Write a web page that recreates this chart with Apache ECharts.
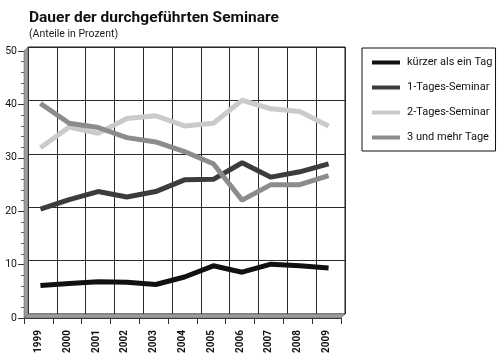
<!DOCTYPE html>
<html>
<head>
<meta charset="utf-8">
<script src="https://cdn.jsdelivr.net/npm/echarts@6/dist/echarts.min.js"></script>
<style>
html,body{margin:0;padding:0;background:#fff;}
#chart{width:500px;height:361px;}
</style>
</head>
<body>
<div id="chart"></div>
<script>
var years = ['1999','2000','2001','2002','2003','2004','2005','2006','2007','2008','2009'];
var kuerzer   = [5.7, 6.1, 6.4, 6.3, 5.9, 7.3, 9.4, 8.2, 9.7, 9.4, 9.0];
var einTages  = [20.0, 21.8, 23.3, 22.3, 23.3, 25.5, 25.6, 28.7, 26.0, 27.0, 28.5];
var zweiTages = [31.5, 35.4, 34.2, 37.0, 37.5, 35.6, 36.1, 40.4, 38.8, 38.3, 35.6];
var dreiMehr  = [39.8, 36.1, 35.3, 33.4, 32.6, 30.8, 28.5, 21.7, 24.6, 24.6, 26.3];
var seriesNames = ['kürzer als ein Tag','1-Tages-Seminar','2-Tages-Seminar','3 und mehr Tage'];
var yMin = 0, yMax = 50, yStep = 10;

var FONT = 'Roboto, "Liberation Sans", sans-serif';
var L = 28, T = 47, W = 317, H = 267, D = 4;   // back wall and depth
var wallColor = '#9c9c9c';

var chart = echarts.init(document.getElementById('chart'));
var colors = ['#111111', '#3c3c3c', '#cacaca', '#8c8c8c'];
var datasets = [kuerzer, einTages, zweiTages, dreiMehr];

function grid(dx, dy, show) {
  return {left: L + dx, top: T + dy, width: W, height: H, show: show,
          borderColor: '#1a1a1a', borderWidth: 1, backgroundColor: 'transparent'};
}

var option = {
  animation: false,
  backgroundColor: '#fff',
  title: {
    text: 'Dauer der durchgeführten Seminare',
    subtext: '(Anteile in Prozent)',
    left: 24, top: 5, itemGap: 3,
    textStyle: {fontFamily: FONT, fontSize: 15.5, fontWeight: 'bold', color: '#111'},
    subtextStyle: {fontFamily: FONT, fontSize: 10.5, color: '#222'}
  },
  legend: {
    orient: 'vertical', left: 362, top: 48,
    borderColor: '#111', borderWidth: 1,
    padding: [9, 3, 8, 10],
    itemGap: 14, itemWidth: 28, itemHeight: 4,
    icon: 'rect',
    textStyle: {fontFamily: FONT, fontSize: 11, color: '#111', padding: [0, 0, 0, 2]},
    data: seriesNames
  },
  grid: [grid(0, 0, true), grid(-D, D, false), grid(-D / 2, D / 2, false)],
  xAxis: [
    {gridIndex: 0, type: 'category', data: years, boundaryGap: true,
     axisLine: {show: false}, axisTick: {show: false}, axisLabel: {show: false},
     splitLine: {show: true, interval: 0, lineStyle: {color: '#2a2a2a', width: 1}}},
    {gridIndex: 1, type: 'category', data: years, boundaryGap: true,
     axisLine: {show: true, lineStyle: {color: '#333', width: 1}},
     axisTick: {show: true, interval: 0, length: 6, lineStyle: {color: '#333'}},
     axisLabel: {interval: 0, rotate: 90, margin: 12, fontFamily: FONT, fontSize: 10, fontWeight: 'bold', color: '#111'},
     splitLine: {show: false}},
    {gridIndex: 2, type: 'category', data: years, boundaryGap: true, show: false}
  ],
  yAxis: [
    {gridIndex: 0, type: 'value', min: yMin, max: yMax, interval: yStep,
     axisLine: {show: false}, axisTick: {show: false}, axisLabel: {show: false},
     splitLine: {show: true, lineStyle: {color: '#2a2a2a', width: 1}}},
    {gridIndex: 1, type: 'value', min: yMin, max: yMax, interval: yStep,
     axisLine: {show: true, lineStyle: {color: '#333', width: 1}},
     axisTick: {show: true, length: 6, lineStyle: {color: '#333'}},
     minorTick: {show: true, splitNumber: 5, length: 3, lineStyle: {color: '#666'}},
     axisLabel: {margin: 7, fontFamily: FONT, fontSize: 10.5, color: '#111'},
     splitLine: {show: false}},
    {gridIndex: 2, type: 'value', min: yMin, max: yMax, interval: yStep, show: false}
  ],
  graphic: [
    {type: 'polygon', z: 1, silent: true,
     shape: {points: [[L - D, T + D], [L, T], [L, T + H], [L - D, T + H + D]]},
     style: {fill: wallColor, stroke: '#555', lineWidth: 0.5}},
    {type: 'polygon', z: 1, silent: true,
     shape: {points: [[L - D, T + H + D], [L, T + H], [L + W, T + H], [L + W - D, T + H + D]]},
     style: {fill: wallColor, stroke: '#555', lineWidth: 0.5}}
  ],
  series: datasets.map(function (d, i) {
    return {
      name: seriesNames[i], type: 'line', xAxisIndex: 2, yAxisIndex: 2,
      data: d, symbol: 'none', color: colors[i],
      lineStyle: {width: 5, color: colors[i]}, z: 5 + i
    };
  })
};
chart.setOption(option);
</script>
</body>
</html>
